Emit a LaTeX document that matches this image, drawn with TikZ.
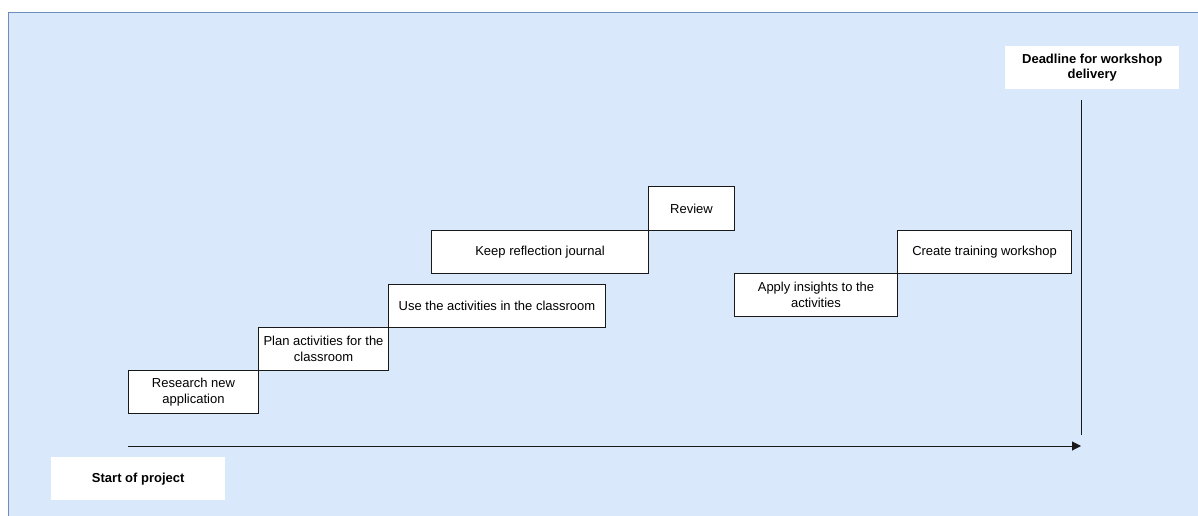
\documentclass[tikz,border=0pt]{standalone}
\usepackage{fontspec}
\setmainfont{Liberation Sans}
\usetikzlibrary{arrows.meta}
\definecolor{bgfill}{HTML}{DAE8FC}
\definecolor{bgline}{HTML}{6C8EBF}
\begin{document}
\begin{tikzpicture}[x=1pt,y=-1pt,
  stepbox/.style={draw=black!90, fill=white, line width=1pt, inner sep=0pt, anchor=north west,
    align=center, font=\fontsize{13}{15.5}\selectfont},
  labelbox/.style={fill=white, draw=none, inner sep=0pt, anchor=north west,
    align=center, font=\bfseries\fontsize{13}{15.5}\selectfont},
  axis/.style={draw=black!90, line width=1pt}]
\useasboundingbox (0,0) rectangle (1198,516);
\begin{scope}
\clip (0,0) rectangle (1198,516);
\draw[fill=bgfill, draw=bgline, line width=1pt] (8,13) rectangle (1210,530);
\end{scope}
\node[stepbox, minimum width=130pt, minimum height=43pt] (r1) at (128,370) {Research new\\application};
\node[stepbox, minimum width=130pt, minimum height=43pt] (r2) at (258,327) {Plan activities for the\\classroom};
\node[stepbox, minimum width=217pt, minimum height=43pt] (r3) at (388,284) {Use the activities in the classroom};
\node[stepbox, minimum width=217pt, minimum height=43pt] (r4) at (431,230) {Keep reflection journal};
\node[stepbox, minimum width=86pt, minimum height=44pt] (r5) at (648,186) {Review};
\node[stepbox, minimum width=163pt, minimum height=43pt] (r6) at (734,273) {Apply insights to the\\activities};
\node[stepbox, minimum width=174pt, minimum height=43pt] (r7) at (897,230) {Create training workshop};
\node[labelbox, minimum width=174pt, minimum height=43pt] (s) at (51,457) {Start of project};
\node[labelbox, minimum width=174pt, minimum height=43pt] (d) at (1005,46) {Deadline for workshop\\delivery};
\coordinate (a0) at (128,446);
\coordinate (a1) at (1081,446);
\coordinate (v0) at (1081,100);
\coordinate (v1) at (1081,435);
\draw[axis, -{Triangle[length=9pt,width=9pt]}] (a0) -- (a1);
\draw[axis] (v0) -- (v1);
\end{tikzpicture}
\end{document}
